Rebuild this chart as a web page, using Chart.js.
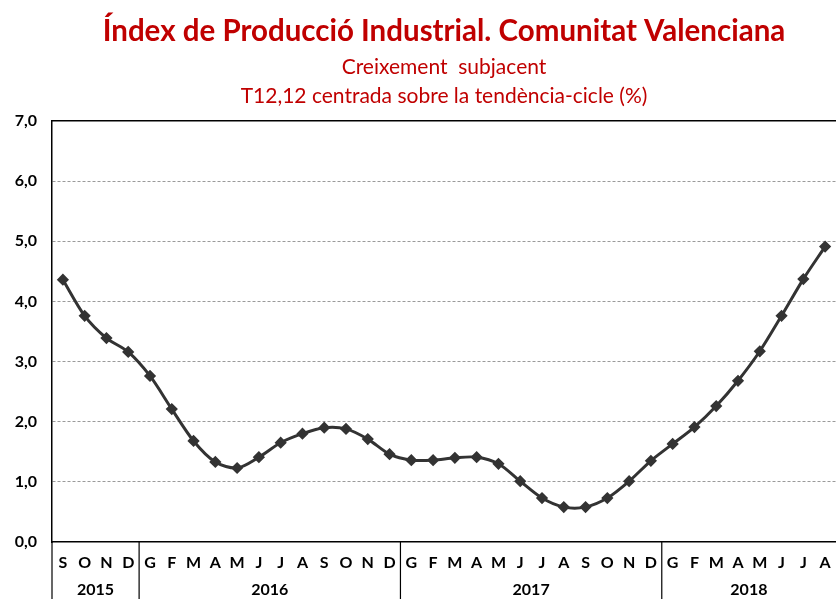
<!DOCTYPE html>
<html>
<head>
<meta charset="utf-8">
<script src="https://cdn.jsdelivr.net/npm/chart.js@4.4.1/dist/chart.umd.min.js"></script>
<style>
  html, body { margin: 0; padding: 0; background: #fff; }
  #wrap { width: 836px; height: 599px; }
</style>
</head>
<body>
<div id="wrap"><canvas id="ipi"></canvas></div>
<script>
// months from Sep 2015 to Aug 2018 (Catalan initials)
var months = ["S","O","N","D",
  "G","F","M","A","M","J","J","A","S","O","N","D",
  "G","F","M","A","M","J","J","A","S","O","N","D",
  "G","F","M","A","M","J","J","A"];
var years = ["2015", "2016", "2017", "2018"];
var yearStart = [0, 4, 16, 28];   // index of first month of each year
var yearEnd = [3, 15, 27, 35];
// T12,12 growth (%)
var growth = [4.36, 3.76, 3.39, 3.16,
  2.76, 2.21, 1.68, 1.33, 1.23, 1.41, 1.65, 1.80, 1.90, 1.88, 1.71, 1.46,
  1.36, 1.36, 1.40, 1.41, 1.30, 1.01, 0.73, 0.58, 0.58, 0.73, 1.01, 1.35,
  1.63, 1.91, 2.26, 2.68, 3.17, 3.76, 4.37, 4.91];
var yTicks = [0, 1, 2, 3, 4, 5, 6, 7];

var RED = "#c00000";
var FONT = "Lato, 'Open Sans', sans-serif";

var yearRows = {
  id: "yearRows",
  afterDraw: function (chart) {
    var ctx = chart.ctx;
    var x = chart.scales.x;
    var area = chart.chartArea;
    var H = chart.height;
    var half = (x.getPixelForValue(1) - x.getPixelForValue(0)) / 2;
    ctx.save();
    // top border
    ctx.strokeStyle = "#000";
    ctx.lineWidth = 1.5;
    ctx.beginPath();
    ctx.moveTo(area.left, area.top);
    ctx.lineTo(area.right, area.top);
    ctx.stroke();
    // left line goes down through the label rows
    ctx.lineWidth = 1.2;
    ctx.beginPath();
    ctx.moveTo(area.left, area.bottom);
    ctx.lineTo(area.left, H);
    ctx.stroke();
    ctx.font = "bold 16px " + FONT;
    ctx.fillStyle = "#000";
    ctx.textAlign = "center";
    ctx.textBaseline = "middle";
    for (var i = 0; i < years.length; i++) {
      var l = x.getPixelForValue(yearStart[i]) - half;
      var r = x.getPixelForValue(yearEnd[i]) + half;
      if (i > 0) {
        ctx.beginPath();
        ctx.moveTo(l, area.bottom);
        ctx.lineTo(l, H);
        ctx.stroke();
      }
      ctx.fillText(years[i], (l + r) / 2, 590);
    }
    ctx.restore();
  }
};

new Chart(document.getElementById("ipi"), {
  type: "line",
  data: {
    labels: months,
    datasets: [{
      data: growth,
      borderColor: "#333333",
      backgroundColor: "#333333",
      borderWidth: 3,
      tension: 0.3,
      pointStyle: "rectRot",
      pointRadius: 4,
      pointHoverRadius: 4
    }]
  },
  options: {
    responsive: true,
    maintainAspectRatio: false,
    animation: false,
    layout: { autoPadding: false, padding: { left: 0, right: 0, top: 0, bottom: 0 } },
    plugins: {
      legend: { display: false },
      tooltip: { enabled: false },
      title: {
        display: true,
        fullSize: false,
        text: "Índex de Producció Industrial. Comunitat Valenciana",
        color: RED,
        font: { family: FONT, size: 29.5, weight: "bold", lineHeight: 1.2 },
        padding: { top: 14, bottom: 3 }
      },
      subtitle: {
        display: true,
        fullSize: false,
        text: ["Creixement  subjacent", "T12,12 centrada sobre la tendència-cicle (%)"],
        color: RED,
        font: { family: FONT, size: 21, lineHeight: 1.38 },
        padding: { top: 0, bottom: 10.5 }
      }
    },
    scales: {
      x: {
        offset: true,
        grid: { display: false },
        border: { display: true, color: "#000", width: 1.5 },
        ticks: {
          color: "#000",
          font: { family: FONT, size: 16, weight: "bold" },
          autoSkip: false,
          maxRotation: 0,
          padding: 3
        },
        afterFit: function (s) { s.height = 57; }
      },
      y: {
        min: 0,
        max: 7,
        afterBuildTicks: function (s) {
          s.ticks = yTicks.map(function (v) { return { value: v }; });
        },
        grid: {
          color: function (c) {
            return (c.tick && c.tick.value > 0 && c.tick.value < 7) ? "#9a9a9a" : "rgba(0,0,0,0)";
          },
          lineWidth: 1,
          drawTicks: false
        },
        border: { display: true, color: "#000", width: 1.5, dash: [3, 2] },
        ticks: {
          color: "#000",
          font: { family: FONT, size: 16, weight: "bold" },
          padding: 15,
          callback: function (v) { return v.toFixed(1).replace(".", ","); }
        },
        afterFit: function (s) { s.width = 52; }
      }
    }
  },
  plugins: [yearRows]
});
</script>
</body>
</html>
